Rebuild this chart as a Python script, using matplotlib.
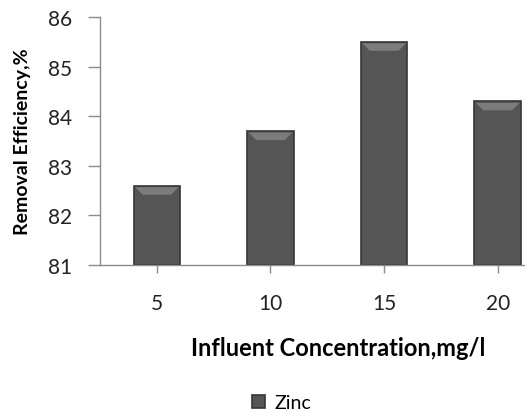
""" Bar chart of zinc removal efficiency against influent concentration """

import matplotlib
matplotlib.use('Agg')
import matplotlib.pyplot as plt
from matplotlib.patches import Polygon
import numpy as np

plt.rcParams['font.family'] = ['Lato', 'DejaVu Sans']

# Data
concentrations = ['5', '10', '15', '20']
zinc_removal = [82.6, 83.7, 85.5, 84.3]
y_ticks = [81, 82, 83, 84, 85, 86]

fig = plt.figure(figsize=(5.25, 4.14), dpi=100)
ax = fig.add_axes([100 / 525, (414 - 266) / 414, 425 / 525, (266 - 18) / 414])

x_pos = np.arange(len(concentrations))
bars = ax.bar(x_pos, np.array(zinc_removal) - 81, bottom=81, width=0.41,
              color='#555555', edgecolor='#363636', linewidth=1.2,
              label='Zinc', zorder=2)

ax.set_xlim(-0.5, 3.24)
ax.set_ylim(81, 86)

# Bevel highlight along the top of each bar (about 9 px tall, 8 px inset)
px_x = (3.24 + 0.5) / 425
px_y = 5 / 248
for bar in bars:
    x0 = bar.get_x()
    x1 = x0 + bar.get_width()
    top = bar.get_y() + bar.get_height()
    bevel = Polygon([(x0 + 1.5 * px_x, top - 1.5 * px_y),
                     (x1 - 1.5 * px_x, top - 1.5 * px_y),
                     (x1 - 9 * px_x, top - 9 * px_y),
                     (x0 + 9 * px_x, top - 9 * px_y)],
                    closed=True, facecolor='#7c7c7c', edgecolor='none',
                    zorder=3)
    ax.add_patch(bevel)

ax.set_yticks(y_ticks)
ax.set_xticks(x_pos)
ax.set_xticklabels(concentrations)

for side in ['top', 'right']:
    ax.spines[side].set_visible(False)
for side in ['left', 'bottom']:
    ax.spines[side].set_color('#8c8c8c')
    ax.spines[side].set_linewidth(1.0)

ax.tick_params(axis='y', length=9, width=1.0, color='#8c8c8c',
               labelsize=15, pad=11, labelcolor='#222222')
ax.tick_params(axis='x', length=6, width=1.0, color='#8c8c8c',
               labelsize=15, pad=14, labelcolor='#222222')

ax.set_xlabel('Influent Concentration,mg/l', fontsize=17, fontweight='bold')
ax.set_ylabel('Removal Efficiency,%', fontsize=14, fontweight='bold')
ax.xaxis.set_label_coords(238 / 425, -71 / 248)
ax.yaxis.set_label_coords(-69 / 425, 0.5)

fig.legend(loc='center', bbox_to_anchor=(282 / 525, 10 / 414), frameon=False,
           fontsize=14, handlelength=0.65, handleheight=0.65,
           handletextpad=0.5)

fig.savefig('out.png', dpi=100)
